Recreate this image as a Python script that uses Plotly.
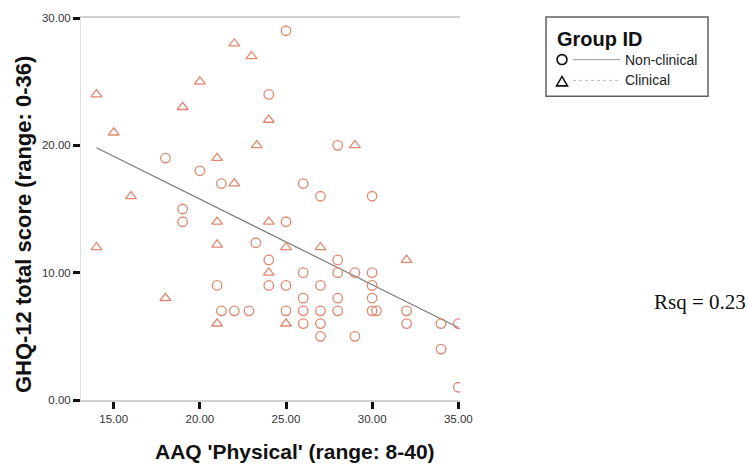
import numpy as np
import plotly.graph_objects as go

# AAQ 'Physical' score (x) and GHQ-12 total score (y) per participant
nonclin_x = [18, 19, 19, 20, 21.25, 24, 25, 28, 26, 27, 30, 25, 23.25, 24, 24, 21,
             21.25, 22, 22.85, 25, 26, 27, 28, 28, 29, 30, 30, 26, 28, 30, 25, 26,
             27, 28, 30, 30.25, 32, 26, 27, 32, 34, 35, 27, 29, 34, 35]
nonclin_y = [19, 15, 14, 18, 17, 24, 29, 20, 17, 16, 16, 14, 12.35, 11, 9, 9,
             7, 7, 7, 9, 10, 9, 11, 10, 10, 10, 9, 8, 8, 8, 7, 7,
             7, 7, 7, 7, 7, 6, 6, 6, 6, 6, 5, 5, 4, 1]

clin_x = [14, 15, 16, 19, 20, 22, 23, 24, 23.3, 21, 22, 21, 24, 14, 21, 24, 18,
          21, 25, 27, 29, 32, 25]
clin_y = [24, 21, 16, 23, 25, 28, 27, 22, 20, 19, 17, 14, 14, 12, 12.2, 10, 8,
          6, 12, 12, 20, 11, 6]

x_ticks = [15, 20, 25, 30, 35]
y_ticks = [0, 10, 20, 30]
rsq_label = "Rsq = 0.23"

POINT_COLOR = "#E0886F"
LINE_COLOR = "#7c7c7c"

# Linear fit across all participants
all_x = np.array(nonclin_x + clin_x, dtype=float)
all_y = np.array(nonclin_y + clin_y, dtype=float)
slope, intercept = np.polyfit(all_x, all_y, 1)
fit_x = np.array([all_x.min(), all_x.max()])
fit_y = intercept + slope * fit_x

fig = go.Figure()
fig.add_trace(go.Scatter(
    x=fit_x, y=fit_y, mode="lines",
    line=dict(color=LINE_COLOR, width=1.2), showlegend=False, hoverinfo="skip"))
fig.add_trace(go.Scatter(
    x=nonclin_x, y=nonclin_y, mode="markers", name="Non-clinical",
    marker=dict(symbol="circle-open", size=9.5, color=POINT_COLOR,
                line=dict(width=1.3, color=POINT_COLOR)), showlegend=False))
fig.add_trace(go.Scatter(
    x=clin_x, y=clin_y, mode="markers", name="Clinical",
    marker=dict(symbol="triangle-up-open", size=9.5, color=POINT_COLOR,
                line=dict(width=1.3, color=POINT_COLOR)), showlegend=False))

# Plot-area geometry in pixels
W, H = 748, 466
L, R, T, B = 81, 460, 15, 400.5


def px(x):
    return (x - L) / (R - L)


def py(y):
    return (B - y) / (B - T)


FONT = "Liberation Sans, Arial, sans-serif"

shapes = []
annotations = []

# Hand-built legend box
shapes.append(dict(type="rect", xref="paper", yref="paper",
                   x0=px(546), x1=px(708), y0=py(14), y1=py(94),
                   line=dict(color="#606060", width=1.5), fillcolor="white"))
annotations.append(dict(text="<b>Group ID</b>", xref="paper", yref="paper",
                        x=px(555), y=py(36), xanchor="left", yanchor="middle",
                        showarrow=False, font=dict(family=FONT, size=20, color="#111")))
# circle symbol + solid line
shapes.append(dict(type="circle", xref="paper", yref="paper",
                   x0=px(557), x1=px(567), y0=py(52), y1=py(62),
                   line=dict(color="#111", width=1.6)))
shapes.append(dict(type="line", xref="paper", yref="paper",
                   x0=px(573), x1=px(620), y0=py(57), y1=py(57),
                   line=dict(color="#999", width=1)))
annotations.append(dict(text="Non-clinical", xref="paper", yref="paper",
                        x=px(623), y=py(57), xanchor="left", yanchor="middle",
                        showarrow=False, font=dict(family=FONT, size=14, color="#222")))
# triangle symbol + dotted line
tri = "M {} {} L {} {} L {} {} Z".format(px(556.5), py(83.5), px(567.5), py(83.5), px(562), py(74))
shapes.append(dict(type="path", xref="paper", yref="paper", path=tri,
                   line=dict(color="#111", width=1.6)))
shapes.append(dict(type="line", xref="paper", yref="paper",
                   x0=px(573), x1=px(620), y0=py(78), y1=py(78),
                   line=dict(color="#bbb", width=1, dash="dot")))
annotations.append(dict(text="Clinical", xref="paper", yref="paper",
                        x=px(623), y=py(78), xanchor="left", yanchor="middle",
                        showarrow=False, font=dict(family=FONT, size=14, color="#222")))

# Axis titles
annotations.append(dict(text="<b>AAQ 'Physical' (range: 8-40)</b>", xref="paper", yref="paper",
                        x=px(295), y=py(452), xanchor="center", yanchor="middle",
                        showarrow=False, font=dict(family=FONT, size=21, color="#111")))
annotations.append(dict(text="<b>GHQ-12 total score (range: 0-36)</b>", xref="paper", yref="paper",
                        x=px(23), y=py(224), xanchor="center", yanchor="middle", textangle=-90,
                        showarrow=False, font=dict(family=FONT, size=22, color="#111")))

# R-squared label
annotations.append(dict(text=rsq_label, xref="paper", yref="paper",
                        x=px(700), y=py(302), xanchor="center", yanchor="middle",
                        showarrow=False,
                        font=dict(family="Liberation Serif, Times New Roman, serif",
                                  size=21, color="#111")))

fig.update_layout(
    width=W, height=H,
    margin=dict(l=L, r=W - R, t=T, b=H - B, pad=0),
    paper_bgcolor="white", plot_bgcolor="white",
    shapes=shapes, annotations=annotations,
    showlegend=False,
)
fig.update_xaxes(
    range=[13.1, 35.1], tickvals=x_ticks, ticktext=["%.2f" % v for v in x_ticks],
    showgrid=False, zeroline=False, showline=True, linecolor="#d0d0d0", linewidth=1.5,
    mirror=True, ticks="outside", ticklen=7, tickwidth=2.5, tickcolor="#111",
    tickfont=dict(family=FONT, size=11.5, color="#333"),
)
fig.update_yaxes(
    range=[0, 30], tickvals=y_ticks, ticktext=["%.2f" % v for v in y_ticks],
    showgrid=False, zeroline=False, showline=True, linecolor="#e0e0e0", linewidth=1,
    ticks="outside", ticklen=7, tickwidth=2.5, tickcolor="#111",
    tickfont=dict(family=FONT, size=11.5, color="#333"),
)

fig.write_html("out.html")
